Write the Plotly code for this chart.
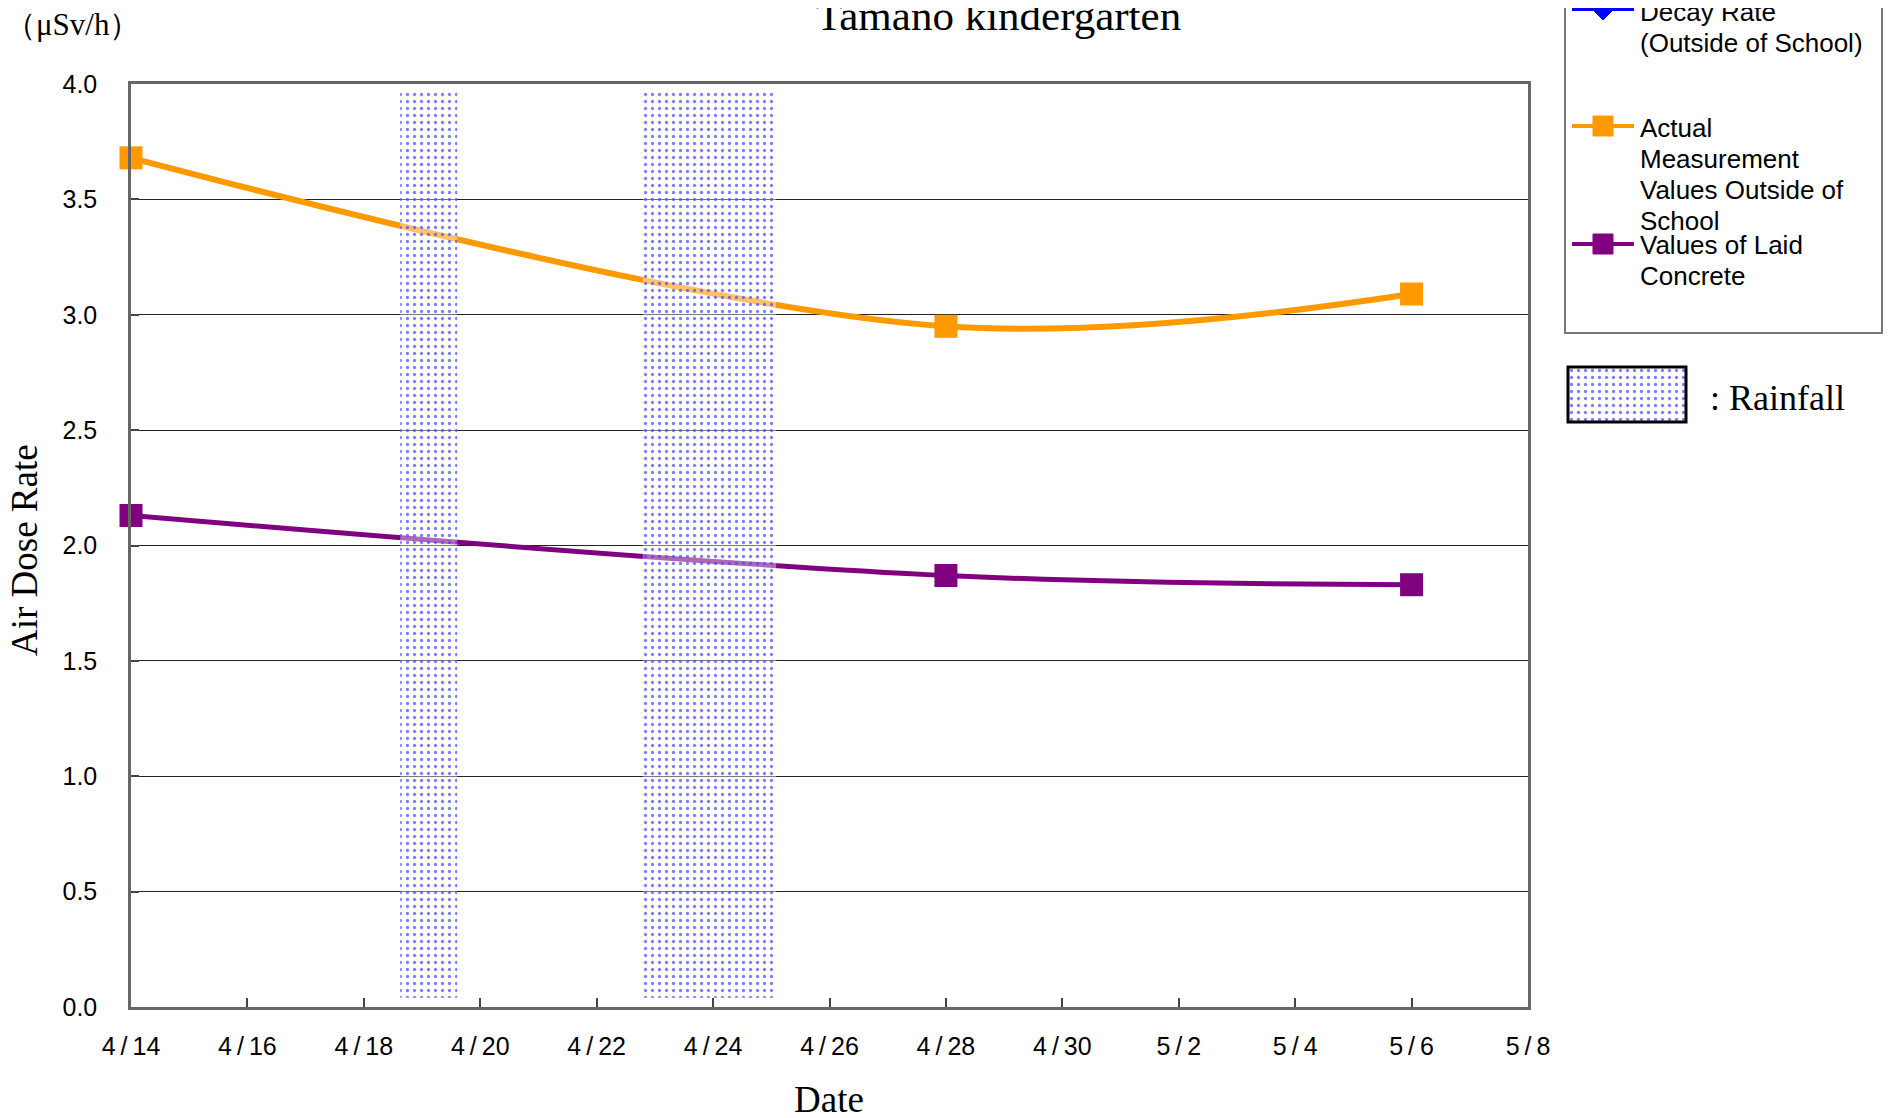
import plotly.graph_objects as go

# ---------------- data ----------------
dates = ["2011-04-14", "2011-04-28", "2011-05-06"]
outside_values = [3.68, 2.95, 3.09]
concrete_values = [2.13, 1.87, 1.83]

rain_start = ["2011-04-18 15:00", "2011-04-22 19:00"]
rain_end = ["2011-04-19 14:30", "2011-04-25 02:00"]
rain_bottom = 0.04
rain_top = 3.965

title_text = "Tamano kindergarten"
unit_text = "（μSv/h）"
y_title = "Air Dose Rate"
x_title = "Date"
legend_lines = [
    ["Decay Rate", "(Outside of School)"],
    ["Actual", "Measurement", "Values Outside of", "School"],
    ["Values of Laid", "Concrete"],
]
rain_label = ": Rainfall"

# ---------------- geometry helpers ----------------
FIG_W, FIG_H = 1894, 1118
OFF = 8  # page body margin offset
L_REF, X_RIGHT_REF = 131, 1528
T_REF, B_REF = 84, 1007
MR = 10
L = L_REF - OFF
T = T_REF - OFF
B_EDGE = B_REF - OFF
TOTAL_W = FIG_W - L - MR


def fx(px):
    return (px - OFF - L) / TOTAL_W


def fy(py):
    return (B_EDGE - (py - OFF)) / (B_EDGE - T)


ORANGE = "#FF9900"
PURPLE = "#800080"
BLUE = "#0000FF"
SANS = "Liberation Sans, Arial, sans-serif"
SERIF = "Liberation Serif, Times New Roman, serif"

pattern = dict(shape=".", fgcolor="rgba(70,70,255,0.7)", bgcolor="rgba(255,255,255,0.4)",
               size=7, solidity=0.17, fillmode="replace")

fig = go.Figure()

fig.add_trace(go.Scatter(
    x=dates, y=outside_values, mode="lines+markers", cliponaxis=False,
    line=dict(color=ORANGE, width=6, shape="spline", smoothing=1.0),
    marker=dict(symbol="square", size=23, color=ORANGE),
    showlegend=False, name="Actual Measurement Values Outside of School"))

fig.add_trace(go.Scatter(
    x=dates, y=concrete_values, mode="lines+markers", cliponaxis=False,
    line=dict(color=PURPLE, width=5, shape="spline", smoothing=1.0),
    marker=dict(symbol="square", size=23, color=PURPLE),
    showlegend=False, name="Values of Laid Concrete"))

for s, e in zip(rain_start, rain_end):
    fig.add_trace(go.Scatter(
        x=[s, e, e, s, s], y=[rain_bottom, rain_bottom, rain_top, rain_top, rain_bottom],
        mode="none", fill="toself", fillcolor="rgba(255,255,255,0.4)",
        fillpattern=pattern, showlegend=False, hoverinfo="skip", name="Rainfall"))

# rainfall legend swatch on an overlay axis
fig.add_trace(go.Scatter(
    x=[0, 1, 1, 0, 0], y=[0, 0, 1, 1, 0], mode="none", fill="toself",
    fillcolor="white", fillpattern=pattern, xaxis="x2", yaxis="y2",
    showlegend=False, hoverinfo="skip"))

fig.update_layout(
    width=FIG_W, height=FIG_H,
    paper_bgcolor="white", plot_bgcolor="white",
    margin=dict(l=L, r=MR, t=T, b=FIG_H - B_EDGE, autoexpand=False),
    xaxis=dict(
        type="date", domain=[0, fx(X_RIGHT_REF)],
        range=["2011-04-14", "2011-05-08"],
        tick0="2011-04-14", dtick=2 * 86400000,
        tickformat="%-m\u2009/\u2009%-d",
        ticks="inside", ticklen=9, tickwidth=1.5, tickcolor="#444",
        showgrid=False, zeroline=False,
        showline=True, linecolor="#666", linewidth=2.5, mirror=True,
        tickfont=dict(family=SANS, size=25, color="black"),
        ticklabelstandoff=15,
    ),
    yaxis=dict(
        range=[0, 4], dtick=0.5, tick0=0, tickformat=".1f",
        ticks="inside", ticklen=8, tickwidth=1.5, tickcolor="#444",
        showgrid=True, gridcolor="#222", gridwidth=1.3, zeroline=False,
        showline=True, linecolor="#666", linewidth=2.5, mirror=True,
        tickfont=dict(family=SANS, size=25, color="black"),
        ticklabelstandoff=26,
    ),
    xaxis2=dict(domain=[fx(1568), fx(1686)], range=[0, 1], visible=False,
                anchor="y2", fixedrange=True),
    yaxis2=dict(domain=[fy(422), fy(367)], range=[0, 1], visible=False,
                anchor="x2", fixedrange=True),
    showlegend=False,
)

annotations = [
    dict(text=title_text, x=fx(998), y=fy(16), xanchor="center", yanchor="middle",
         font=dict(family=SERIF, size=43, color="black")),
    dict(text=unit_text, x=fx(72), y=fy(24), xanchor="center", yanchor="middle",
         font=dict(family=SERIF, size=31, color="black")),
    dict(text=y_title, x=fx(24), y=fy(550), xanchor="center", yanchor="middle",
         textangle=-90, font=dict(family=SERIF, size=37, color="black")),
    dict(text=x_title, x=fx(829), y=fy(1099), xanchor="center", yanchor="middle",
         font=dict(family=SERIF, size=37, color="black")),
    dict(text=rain_label, x=fx(1708), y=fy(398), xanchor="left", yanchor="middle",
         font=dict(family=SERIF, size=36, color="black")),
]

# manual legend (text lines)
legend_first_y = [12, 128, 245]
LINE_GAP = 31
for lines, y0 in zip(legend_lines, legend_first_y):
    for i, t in enumerate(lines):
        annotations.append(dict(text=t, x=fx(1638), y=fy(y0 + i * LINE_GAP),
                                xanchor="left", yanchor="middle",
                                font=dict(family=SANS, size=26, color="black")))

for a in annotations:
    a.update(xref="paper", yref="paper", showarrow=False)
fig.update_layout(annotations=annotations)

shapes = [
    # legend box
    dict(type="rect", x0=fx(1565), x1=fx(1882), y0=fy(333), y1=fy(-20),
         line=dict(color="#777", width=2), fillcolor="rgba(0,0,0,0)"),
    # rainfall swatch border
    dict(type="rect", x0=fx(1568), x1=fx(1686), y0=fy(422), y1=fy(367),
         line=dict(color="black", width=3), fillcolor="rgba(0,0,0,0)"),
]
legend_colors = [BLUE, ORANGE, PURPLE]
legend_sym_y = [9, 126, 244]
for c, yy in zip(legend_colors, legend_sym_y):
    shapes.append(dict(type="line", x0=fx(1572), x1=fx(1634), y0=fy(yy), y1=fy(yy),
                       line=dict(color=c, width=4)))
# diamond for decay rate
shapes.append(dict(type="path",
                   path=f"M {fx(1592)},{fy(9)} L {fx(1603)},{fy(-2)} L {fx(1614)},{fy(9)} L {fx(1603)},{fy(20)} Z",
                   fillcolor=BLUE, line=dict(color=BLUE, width=1)))
for c, yy in zip(legend_colors[1:], legend_sym_y[1:]):
    shapes.append(dict(type="rect", x0=fx(1593), x1=fx(1613), y0=fy(yy + 10), y1=fy(yy - 10),
                       fillcolor=c, line=dict(color=c, width=1)))
for s in shapes:
    s.update(xref="paper", yref="paper")
fig.update_layout(shapes=shapes)

fig.write_html("out.html")
